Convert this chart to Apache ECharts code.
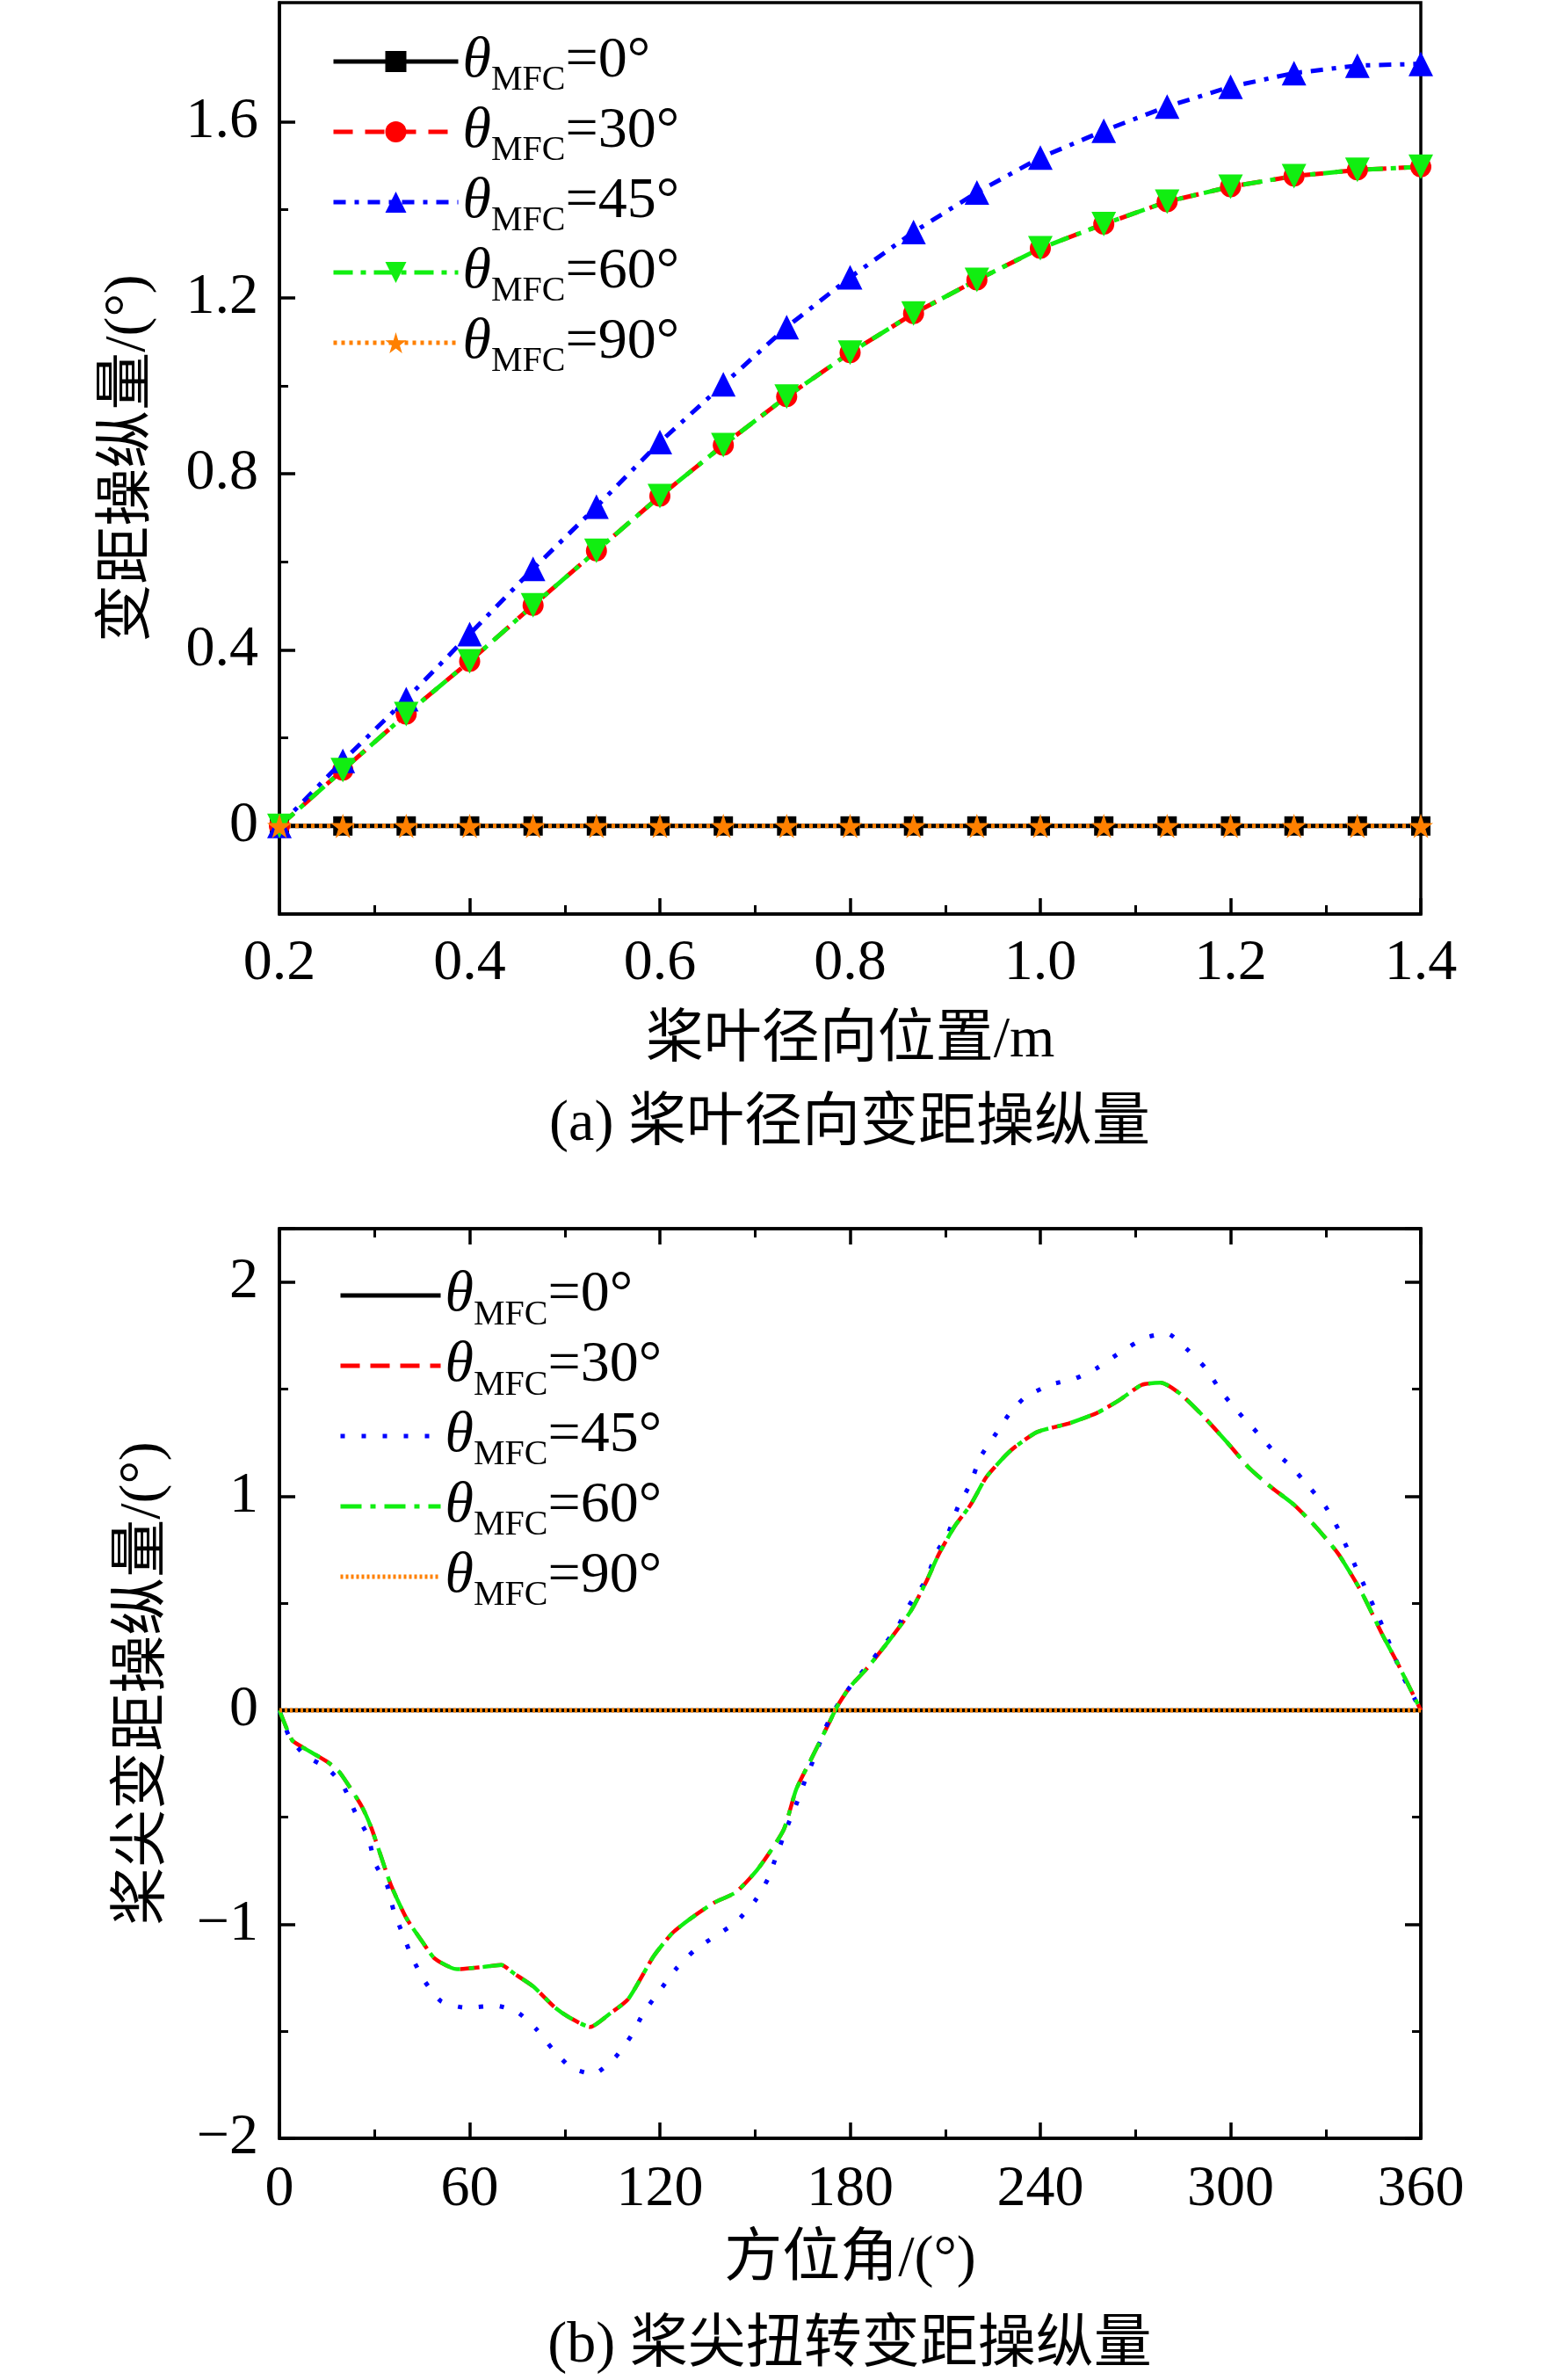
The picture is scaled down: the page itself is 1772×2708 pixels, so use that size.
<!DOCTYPE html>
<html>
<head>
<meta charset="utf-8">
<script src="https://cdn.jsdelivr.net/npm/echarts@6/dist/echarts.min.js"></script>
<style>html,body{margin:0;padding:0;background:#fff}#main{width:1772px;height:2708px}</style>
</head>
<body>
<div id="main"></div>
<script>
// (a) 桨叶径向变距操纵量 数据
var topX = [0.2, 0.2667, 0.3333, 0.4, 0.4667, 0.5333, 0.6, 0.6667, 0.7333, 0.8, 0.8667, 0.9333, 1.0, 1.0667, 1.1333, 1.2, 1.2667, 1.3333, 1.4];
var top0 = [0, 0, 0, 0, 0, 0, 0, 0, 0, 0, 0, 0, 0, 0, 0, 0, 0, 0, 0];
var top30 = [0, 0.127, 0.254, 0.374, 0.501, 0.625, 0.749, 0.865, 0.975, 1.075, 1.164, 1.240, 1.312, 1.367, 1.418, 1.452, 1.476, 1.490, 1.497];
var top45 = [0, 0.148, 0.288, 0.436, 0.584, 0.725, 0.872, 1.003, 1.133, 1.246, 1.349, 1.439, 1.518, 1.579, 1.634, 1.679, 1.710, 1.727, 1.731];
var top60 = [0, 0.127, 0.254, 0.374, 0.501, 0.625, 0.749, 0.865, 0.975, 1.075, 1.164, 1.240, 1.312, 1.367, 1.418, 1.452, 1.476, 1.490, 1.497];
var top90 = [0, 0, 0, 0, 0, 0, 0, 0, 0, 0, 0, 0, 0, 0, 0, 0, 0, 0, 0];
var topYTicks = [0, 0.4, 0.8, 1.2, 1.6];
var topYMinor = [0.2, 0.6, 1.0, 1.4];

// (b) 桨尖扭转变距操纵量 数据
var angFlat = [0, 360];
var valFlat = [0, 0];
var ang30 = [0, 4, 7, 15, 19, 26, 29, 35, 40, 45, 49, 56, 64, 70, 74, 80, 87, 92, 98, 104, 110, 118, 124, 130, 137, 144, 151, 159, 163, 168, 174, 176, 180, 185, 192, 199, 204, 208, 213, 218, 223, 229, 232, 239, 249, 258, 265, 272, 278, 284, 291, 299, 306, 313, 320, 327, 334, 341, 348, 353, 360];
var val30 = [0, -0.14, -0.17, -0.24, -0.29, -0.45, -0.55, -0.81, -0.97, -1.08, -1.16, -1.21, -1.20, -1.19, -1.23, -1.29, -1.39, -1.44, -1.48, -1.42, -1.35, -1.15, -1.04, -0.97, -0.90, -0.85, -0.74, -0.56, -0.37, -0.22, -0.04, 0.02, 0.11, 0.19, 0.32, 0.46, 0.60, 0.73, 0.86, 0.96, 1.09, 1.19, 1.23, 1.30, 1.34, 1.39, 1.45, 1.52, 1.53, 1.48, 1.38, 1.25, 1.13, 1.04, 0.96, 0.855, 0.73, 0.56, 0.35, 0.21, 0];
var val60 = val30.slice();
var ang45 = [0, 3, 8, 15, 20, 24, 28, 30, 34, 36, 39, 42, 46, 51, 59, 68, 75, 81, 86, 92, 99, 106, 111, 115, 120, 125, 131, 137, 144, 150, 154, 157, 160, 163, 166, 169, 172, 175, 180, 185, 191, 195, 199, 204, 207, 211, 214, 218, 221, 225, 230, 235, 243, 251, 258, 265, 273, 280, 286, 292, 297, 302, 307, 313, 319, 325, 330, 334, 341, 348, 354, 360];
var val45 = [0, -0.12, -0.21, -0.27, -0.35, -0.48, -0.59, -0.71, -0.82, -0.935, -1.05, -1.16, -1.27, -1.36, -1.39, -1.38, -1.41, -1.49, -1.58, -1.67, -1.70, -1.62, -1.52, -1.41, -1.31, -1.21, -1.12, -1.06, -0.99, -0.89, -0.79, -0.67, -0.55, -0.44, -0.32, -0.21, -0.09, 0.0, 0.11, 0.20, 0.31, 0.39, 0.50, 0.61, 0.73, 0.83, 0.95, 1.06, 1.18, 1.27, 1.38, 1.46, 1.52, 1.55, 1.60, 1.67, 1.74, 1.76, 1.69, 1.60, 1.49, 1.40, 1.32, 1.22, 1.14, 1.04, 0.95, 0.845, 0.62, 0.39, 0.17, 0];

var degrees = ['0', '30', '45', '60', '90'];
var colors = ['#000000', '#ff0000', '#0000ff', '#11ee11', '#ff8000'];

var FONT = '"Liberation Serif", "Noto Sans CJK SC", serif';
var BLACK = '#000';

function zip(xs, ys) {
    var d = [];
    for (var i = 0; i < xs.length; i++) d.push([xs[i], ys[i]]);
    return d;
}

var myChart = echarts.init(document.getElementById('main'));

var labelStyle = { color: BLACK, fontFamily: FONT, fontSize: 66 };
var nameStyle = { color: BLACK, fontFamily: FONT, fontSize: 66 };
var lineAxis = { onZero: false, lineStyle: { color: BLACK, width: 3.5 } };
var majorTick = { inside: true, length: 18, lineStyle: { color: BLACK, width: 3.5 } };
var minorTick = { show: true, splitNumber: 2, length: 10, lineStyle: { color: BLACK, width: 3 } };

var legendRich = {
    t: { fontFamily: FONT, fontStyle: 'italic', fontSize: 66, lineHeight: 70, color: BLACK },
    s: { fontFamily: FONT, fontSize: 40, lineHeight: 70, padding: [44, 0, 0, 0], color: BLACK },
    n: { fontFamily: FONT, fontSize: 66, lineHeight: 70, color: BLACK }
};
function legendFormatter(name) {
    return '{t|θ}{s|MFC}{n|=' + name.slice(1) + '°}';
}

// 星形、倒三角
var starPath = 'path://M50,0 L61,35 L98,35 L68,57 L79,91 L50,70 L21,91 L32,57 L2,35 L39,35 Z';
var downTri = 'path://M0,0 L10,0 L5,9 Z';

var option = {
    animation: false,
    backgroundColor: '#ffffff',
    grid: [
        { left: 318, top: 3, width: 1299, height: 1037, show: true, borderColor: BLACK, borderWidth: 3.5, backgroundColor: 'transparent' },
        { left: 318, top: 1398, width: 1299, height: 1035, show: true, borderColor: BLACK, borderWidth: 3.5, backgroundColor: 'transparent' }
    ],
    legend: [{
        orient: 'vertical', left: 372, top: 23,
        itemWidth: 142, itemHeight: 30, itemGap: -4,
        selectedMode: false,
        data: degrees.map(function(d) { return 'a' + d; }),
        formatter: legendFormatter,
        lineStyle: { width: 5 },
        textStyle: { rich: legendRich }
    }, {
        orient: 'vertical', left: 380, top: 1427,
        itemWidth: 114, itemHeight: 30, itemGap: -4,
        selectedMode: false,
        data: degrees.map(function(d) { return 'b' + d; }),
        formatter: legendFormatter,
        lineStyle: { width: 5 },
        itemStyle: { color: 'rgba(0,0,0,0)', borderWidth: 0, opacity: 0 },
        textStyle: { rich: legendRich }
    }],
    xAxis: [{
        gridIndex: 0, type: 'value', min: 0.2, max: 1.4, interval: 0.2,
        axisLine: lineAxis, axisTick: majorTick, minorTick: minorTick,
        splitLine: { show: false },
        axisLabel: Object.assign({ margin: 24, formatter: function(v) { return v.toFixed(1); } }, labelStyle),
        name: '桨叶径向位置/m', nameLocation: 'middle', nameGap: 112, nameTextStyle: nameStyle
    }, {
        gridIndex: 1, type: 'value', min: 0, max: 360, interval: 60,
        axisLine: lineAxis, axisTick: majorTick, minorTick: minorTick,
        splitLine: { show: false },
        axisLabel: Object.assign({ margin: 26 }, labelStyle),
        name: '方位角/(°)', nameLocation: 'middle', nameGap: 106, nameTextStyle: nameStyle
    }, {
        gridIndex: 1, type: 'value', position: 'top', min: 0, max: 360, interval: 60,
        axisLine: lineAxis, axisTick: majorTick, minorTick: minorTick,
        splitLine: { show: false }, axisLabel: { show: false }
    }],
    yAxis: [{
        gridIndex: 0, type: 'value', min: -0.2, max: 1.87,
        axisLine: lineAxis,
        axisTick: Object.assign({ customValues: topYTicks }, majorTick),
        splitLine: { show: false },
        axisLabel: Object.assign({ customValues: topYTicks, margin: 24, formatter: function(v) { return v === 0 ? '0' : v.toFixed(1); } }, labelStyle),
        name: '变距操纵量/(°)', nameLocation: 'middle', nameGap: 138, nameTextStyle: nameStyle
    }, {
        gridIndex: 0, type: 'value', position: 'left', min: -0.2, max: 1.87,
        axisLine: { show: false, onZero: false },
        axisTick: { inside: true, length: 10, customValues: topYMinor, lineStyle: { color: BLACK, width: 3 } },
        splitLine: { show: false }, axisLabel: { show: false }
    }, {
        gridIndex: 1, type: 'value', min: -2, max: 2.25, interval: 1,
        axisLine: lineAxis, axisTick: majorTick, minorTick: minorTick,
        splitLine: { show: false },
        axisLabel: Object.assign({
            margin: 24, showMaxLabel: false,
            formatter: function(v) {
                if (Math.abs(v - Math.round(v)) > 1e-6) return '';
                return v < 0 ? '\u2212' + Math.abs(v) : String(v);
            }
        }, labelStyle),
        name: '桨尖变距操纵量/(°)', nameLocation: 'middle', nameGap: 121, nameTextStyle: nameStyle
    }, {
        gridIndex: 1, type: 'value', position: 'right', min: -2, max: 2.25, interval: 1,
        axisLine: lineAxis, axisTick: majorTick, minorTick: minorTick,
        splitLine: { show: false }, axisLabel: { show: false }
    }],
    graphic: [{
        type: 'text', x: 967, y: 1280,
        style: { text: '(a) 桨叶径向变距操纵量', textAlign: 'center', textVerticalAlign: 'middle', fontSize: 66, fontFamily: FONT, fill: BLACK }
    }, {
        type: 'text', x: 967, y: 2670,
        style: { text: '(b) 桨尖扭转变距操纵量', textAlign: 'center', textVerticalAlign: 'middle', fontSize: 66, fontFamily: FONT, fill: BLACK }
    }],
    series: [
        // 上图
        { name: 'a0', type: 'line', xAxisIndex: 0, yAxisIndex: 0, data: zip(topX, top0), symbol: 'rect', symbolSize: 22, showAllSymbol: true,
          lineStyle: { color: colors[0], width: 5, type: 'solid' }, itemStyle: { color: colors[0] } },
        { name: 'a30', type: 'line', xAxisIndex: 0, yAxisIndex: 0, data: zip(topX, top30), symbol: 'circle', symbolSize: 24, showAllSymbol: true,
          lineStyle: { color: colors[1], width: 5, type: [22, 14] }, itemStyle: { color: colors[1] } },
        { name: 'a45', type: 'line', xAxisIndex: 0, yAxisIndex: 0, data: zip(topX, top45), symbol: 'triangle', symbolSize: 28, showAllSymbol: true,
          lineStyle: { color: colors[2], width: 5, type: [14, 10, 5, 10] }, itemStyle: { color: colors[2] } },
        { name: 'a60', type: 'line', xAxisIndex: 0, yAxisIndex: 0, data: zip(topX, top60), symbol: downTri, symbolSize: 28, showAllSymbol: true,
          lineStyle: { color: colors[3], width: 5, type: [22, 9, 6, 9] }, itemStyle: { color: colors[3] } },
        { name: 'a90', type: 'line', xAxisIndex: 0, yAxisIndex: 0, data: zip(topX, top90), symbol: starPath, symbolSize: 28, showAllSymbol: true,
          lineStyle: { color: colors[4], width: 5, type: [4, 5] }, itemStyle: { color: colors[4] } },
        // 下图
        { name: 'b0', type: 'line', xAxisIndex: 1, yAxisIndex: 2, data: zip(angFlat, valFlat), symbol: 'none',
          lineStyle: { color: colors[0], width: 4.5, type: 'solid' }, itemStyle: { color: colors[0] } },
        { name: 'b30', type: 'line', xAxisIndex: 1, yAxisIndex: 2, data: zip(ang30, val30), symbol: 'none', smooth: 0.2,
          lineStyle: { color: colors[1], width: 4.5, type: [22, 12] }, itemStyle: { color: colors[1] } },
        { name: 'b45', type: 'line', xAxisIndex: 1, yAxisIndex: 2, data: zip(ang45, val45), symbol: 'none', smooth: 0.2,
          lineStyle: { color: colors[2], width: 5, type: [5, 19] }, itemStyle: { color: colors[2] } },
        { name: 'b60', type: 'line', xAxisIndex: 1, yAxisIndex: 2, data: zip(ang30, val60), symbol: 'none', smooth: 0.2,
          lineStyle: { color: colors[3], width: 4.5, type: [24, 10, 6, 10] }, itemStyle: { color: colors[3] } },
        { name: 'b90', type: 'line', xAxisIndex: 1, yAxisIndex: 2, data: zip(angFlat, valFlat), symbol: 'none',
          lineStyle: { color: colors[4], width: 5, type: [3, 3] }, itemStyle: { color: colors[4] } }
    ]
};

myChart.setOption(option);
</script>
</body>
</html>
